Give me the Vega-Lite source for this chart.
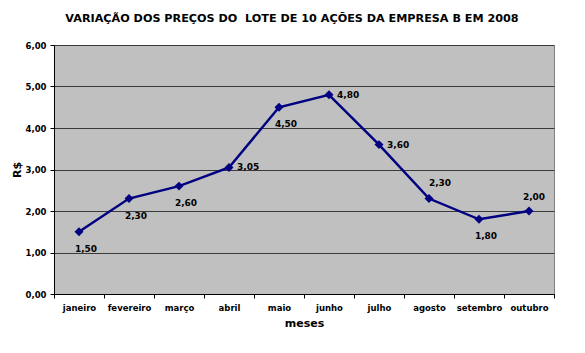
{
  "$schema": "https://vega.github.io/schema/vega-lite/v6.json",
  "autosize": {"type": "none"},
  "padding": {"left": 54, "top": 45, "right": 31, "bottom": 59},
  "width": 500,
  "height": 249,
  "background": "white",
  "title": {
    "text": "VARIAÇÃO DOS PREÇOS DO \u00a0LOTE DE 10 AÇÕES DA EMPRESA B EM 2008",
    "font": "DejaVu Sans",
    "fontSize": 11.2,
    "fontWeight": "bold",
    "color": "#000",
    "anchor": "middle",
    "frame": "group",
    "dx": -12,
    "offset": 17
  },
  "config": {
    "locale": {"number": {"decimal": ",", "thousands": ".", "grouping": [3], "currency": ["R$", ""]}},
    "view": {"fill": "#c0c0c0", "stroke": "#808080", "strokeWidth": 1},
    "font": "DejaVu Sans"
  },
  "data": {
    "values": [
      {"mes": "janeiro", "preco": 1.50},
      {"mes": "fevereiro", "preco": 2.30},
      {"mes": "março", "preco": 2.60},
      {"mes": "abril", "preco": 3.05},
      {"mes": "maio", "preco": 4.50},
      {"mes": "junho", "preco": 4.80},
      {"mes": "julho", "preco": 3.60},
      {"mes": "agosto", "preco": 2.30},
      {"mes": "setembro", "preco": 1.80},
      {"mes": "outubro", "preco": 2.00}
    ]
  },
  "encoding": {
    "x": {
      "field": "mes",
      "type": "nominal",
      "sort": null,
      "bandPosition": 0.5,
      "scale": {"type": "band", "paddingInner": 0, "paddingOuter": 0},
      "axis": {
        "title": "meses",
        "titleFont": "DejaVu Sans",
        "titleFontSize": 11,
        "titleFontWeight": "bold",
        "titleColor": "#000",
        "titlePadding": 6,
        "labelAngle": 0,
        "labelFont": "DejaVu Sans",
        "labelFontSize": 8.5,
        "labelFontWeight": "bold",
        "labelColor": "#000",
        "labelPadding": 5,
        "tickBand": "extent",
        "tickSize": 4,
        "tickColor": "#000",
        "domainColor": "#000",
        "grid": false
      }
    },
    "y": {
      "field": "preco",
      "type": "quantitative",
      "scale": {"domain": [0, 6], "nice": false, "zero": true},
      "axis": {
        "title": "R$",
        "titleFont": "DejaVu Sans",
        "titleFontSize": 11,
        "titleFontWeight": "bold",
        "titleColor": "#000",
        "titlePadding": 3,
        "values": [0, 1, 2, 3, 4, 5, 6],
        "format": ".2f",
        "labelFont": "DejaVu Sans",
        "labelFontSize": 8.5,
        "labelFontWeight": "bold",
        "labelColor": "#000",
        "labelPadding": 4,
        "tickSize": 4,
        "tickColor": "#000",
        "domainColor": "#000",
        "grid": true,
        "gridColor": "#3a3a3a",
        "gridWidth": 1
      }
    }
  },
  "layer": [
    {"mark": {"type": "line", "color": "#000080", "strokeWidth": 2.5}},
    {"mark": {"type": "point", "shape": "diamond", "filled": true, "color": "#000080", "size": 80, "opacity": 1}},
    {
      "transform": [{"filter": {"field": "mes", "oneOf": ["janeiro", "fevereiro", "março", "maio", "setembro"]}}],
      "mark": {"type": "text", "font": "DejaVu Sans", "fontSize": 9, "fontWeight": "bold", "color": "#000", "dx": 7, "dy": 17, "baseline": "middle"},
      "encoding": {"text": {"field": "preco", "type": "quantitative", "format": ".2f"}}
    },
    {
      "transform": [{"filter": {"field": "mes", "oneOf": ["abril", "junho", "julho"]}}],
      "mark": {"type": "text", "font": "DejaVu Sans", "fontSize": 9, "fontWeight": "bold", "color": "#000", "dx": 8, "align": "left", "baseline": "middle"},
      "encoding": {"text": {"field": "preco", "type": "quantitative", "format": ".2f"}}
    },
    {
      "transform": [{"filter": {"field": "mes", "oneOf": ["agosto"]}}],
      "mark": {"type": "text", "font": "DejaVu Sans", "fontSize": 9, "fontWeight": "bold", "color": "#000", "dx": 11, "dy": -16, "baseline": "middle"},
      "encoding": {"text": {"field": "preco", "type": "quantitative", "format": ".2f"}}
    },
    {
      "transform": [{"filter": {"field": "mes", "oneOf": ["outubro"]}}],
      "mark": {"type": "text", "font": "DejaVu Sans", "fontSize": 9, "fontWeight": "bold", "color": "#000", "dx": 5, "dy": -14, "baseline": "middle"},
      "encoding": {"text": {"field": "preco", "type": "quantitative", "format": ".2f"}}
    }
  ]
}
